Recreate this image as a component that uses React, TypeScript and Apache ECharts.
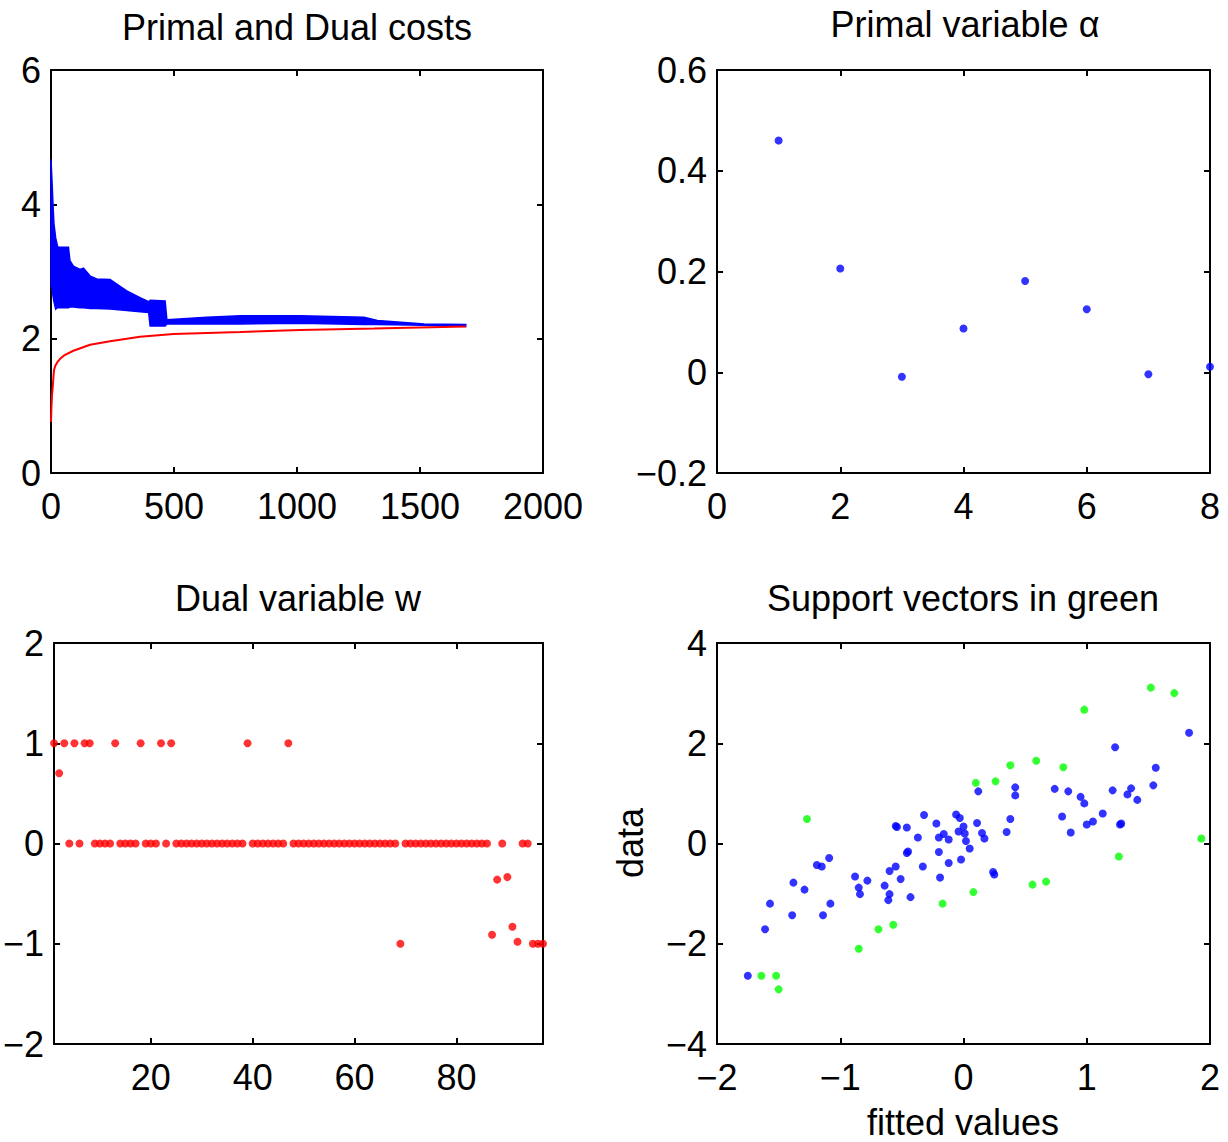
import React, { useEffect, useRef } from "react";
import * as echarts from "echarts";

// ---- Primal and Dual costs (envelope of the oscillating primal cost, and dual cost) ----
const bandX = [0, 4, 8, 12, 19, 26, 30, 71, 77, 91, 118, 132, 160, 186, 240, 308, 362, 397, 403, 464, 471, 634, 770, 1014, 1272, 1327, 1517, 1686];
const primalUpper = [4.67, 4.35, 4.0, 3.71, 3.5, 3.38, 3.36, 3.36, 3.16, 3.08, 3.03, 3.05, 2.93, 2.89, 2.88, 2.71, 2.61, 2.55, 2.57, 2.56, 2.28, 2.32, 2.34, 2.34, 2.32, 2.27, 2.22, 2.21];
const primalLower = [2.81, 2.74, 2.64, 2.55, 2.44, 2.46, 2.46, 2.46, 2.47, 2.47, 2.46, 2.46, 2.45, 2.45, 2.44, 2.42, 2.4, 2.39, 2.19, 2.19, 2.22, 2.22, 2.22, 2.23, 2.21, 2.21, 2.2, 2.18];
const dualX = [0, 2, 4, 7, 12, 18, 26, 37, 53, 91, 159, 240, 362, 498, 770, 1014, 1313, 1686];
const dualCost = [0.76, 1.0, 1.15, 1.28, 1.53, 1.6, 1.65, 1.7, 1.75, 1.82, 1.91, 1.96, 2.03, 2.07, 2.1, 2.13, 2.15, 2.18];

// ---- Primal variable alpha ----
const alphaIndex = [1, 2, 3, 4, 5, 6, 7, 8];
const alphaValues = [0.46, 0.206, -0.009, 0.087, 0.181, 0.125, -0.004, 0.011];

// ---- Dual variable w (index 1..97) ----
const wValues = [
  1, 0.7, 1, 0, 1, 0, 1, 1, 0, 0,
  0, 0, 1, 0, 0, 0, 0, 1, 0, 0,
  0, 1, 0, 1, 0, 0, 0, 0, 0, 0,
  0, 0, 0, 0, 0, 0, 0, 0, 1, 0,
  0, 0, 0, 0, 0, 0, 1, 0, 0, 0,
  0, 0, 0, 0, 0, 0, 0, 0, 0, 0,
  0, 0, 0, 0, 0, 0, 0, 0, -1, 0,
  0, 0, 0, 0, 0, 0, 0, 0, 0, 0,
  0, 0, 0, 0, 0, 0, -0.91, -0.36, 0, -0.335,
  -0.83, -0.98, 0, 0, -1, -1, -1,
];
const wTicks = [20, 40, 60, 80];

// ---- Support vectors ----
const blueFitted = [-1.75, -1.61, -1.57, -1.39, -1.38, -1.29, -1.19, -1.15, -1.09, -1.14, -1.08, -0.88, -0.85, -0.84, -0.78, -0.64, -0.6, -0.61, -0.6, -0.55, -0.51, -0.43, -0.55, -0.54, -0.46, -0.46, -0.45, -0.37, -0.32, -0.33, -0.22, -0.2, -0.16, -0.12, -0.2, -0.19, -0.12, -0.06, -0.03, -0.04, -0.02, 0.0, 0.01, 0.02, 0.05, 0.11, 0.15, 0.17, 0.38, 0.35, 0.24, 0.25, 0.12, 0.42, 0.42, 0.74, 0.85, 0.95, 0.98, 1.23, 1.21, 1.36, 1.33, 1.41, 1.54, 1.56, 1.83, 0.8, 0.87, 1.0, 1.05, 1.13, 1.27, 1.28];
const blueData = [-2.64, -1.71, -1.2, -1.43, -0.78, -0.92, -0.43, -0.46, -0.29, -1.43, -1.2, -0.66, -0.88, -1.01, -0.74, -0.84, -1.01, -1.13, -0.55, -0.46, -0.71, -1.07, 0.35, 0.33, 0.32, -0.19, -0.16, 0.12, 0.57, -0.46, 0.4, 0.12, 0.19, 0.08, -0.17, -0.68, -0.39, 0.58, 0.51, 0.24, -0.32, 0.34, 0.2, 0.05, -0.1, 0.41, 0.21, 0.1, 0.49, 0.23, -0.57, -0.62, 1.04, 1.12, 0.96, 1.09, 1.04, 0.93, 0.8, 1.92, 1.06, 1.1, 0.98, 0.87, 1.16, 1.51, 2.21, 0.54, 0.22, 0.38, 0.44, 0.6, 0.38, 0.4];
const greenFitted = [-1.64, -1.52, -1.5, -1.27, -0.85, -0.69, -0.57, -0.17, 0.08, 0.56, 0.67, 0.1, 0.26, 0.38, 0.59, 0.81, 0.98, 1.52, 1.71, 1.93, 1.26];
const greenData = [-2.64, -2.64, -2.91, 0.49, -2.1, -1.71, -1.62, -1.2, -0.97, -0.82, -0.76, 1.21, 1.24, 1.56, 1.65, 1.52, 2.67, 3.11, 3.0, 0.1, -0.26];

const FONT = "'Liberation Sans', Arial, Helvetica, sans-serif";
const FS = 36;

const fmt = (v: number) => {
  let s = String(Math.round(v * 1000) / 1000);
  if (s === "-0") s = "0";
  return s.replace("-", "\u2212");
};

type AxisSpec = { min: number; max: number; interval?: number; custom?: number[] };

const grids = [
  { left: 51, top: 70, width: 492, height: 403 },
  { left: 717, top: 70, width: 493, height: 403 },
  { left: 51, top: 643, width: 492, height: 401 },
  { left: 717, top: 643, width: 493, height: 401 },
];

function makeAxis(gridIndex: number, spec: AxisSpec, position: string, labels: boolean) {
  const isX = position === "bottom" || position === "top";
  return {
    type: "value",
    gridIndex,
    position,
    min: spec.min,
    max: spec.max,
    interval: spec.interval,
    axisLine: { show: true, onZero: false, lineStyle: { color: "#000", width: 2 } },
    axisTick: {
      show: true,
      inside: true,
      length: 6,
      lineStyle: { color: "#000", width: 2 },
      customValues: spec.custom,
    },
    axisLabel: {
      show: labels,
      margin: isX ? 15 : 10,
      color: "#000",
      fontSize: FS,
      fontFamily: FONT,
      formatter: fmt,
      customValues: spec.custom,
    },
    splitLine: { show: false },
  };
}

const axisSpecs: { x: AxisSpec; y: AxisSpec }[] = [
  { x: { min: 0, max: 2000, interval: 500 }, y: { min: 0, max: 6, interval: 2 } },
  { x: { min: 0, max: 8, interval: 2 }, y: { min: -0.2, max: 0.6, interval: 0.2 } },
  { x: { min: 1, max: 97, custom: wTicks }, y: { min: -2, max: 2, interval: 1 } },
  { x: { min: -2, max: 2, interval: 1 }, y: { min: -4, max: 4, interval: 2 } },
];

export default function App() {
  const ref = useRef<HTMLDivElement>(null);
  useEffect(() => {
    if (!ref.current) return;
    const chart = echarts.init(ref.current, undefined, { renderer: "svg" });

    const xAxes: any[] = [];
    const yAxes: any[] = [];
    axisSpecs.forEach((s, g) => {
      xAxes.push(makeAxis(g, s.x, "bottom", true));
      xAxes.push(makeAxis(g, s.x, "top", false));
      yAxes.push(makeAxis(g, s.y, "left", true));
      yAxes.push(makeAxis(g, s.y, "right", false));
    });

    const titles = [
      { text: "Primal and Dual costs", x: 297, y: 27 },
      { text: "Primal variable \u03b1", x: 965, y: 24 },
      { text: "Dual variable w", x: 298, y: 598 },
      { text: "Support vectors in green", x: 963, y: 598 },
    ];

    const graphic: any[] = titles.map((t) => ({
      type: "text",
      x: t.x,
      y: t.y,
      style: { text: t.text, fill: "#000", font: `${FS}px ${FONT}`, textAlign: "center", textVerticalAlign: "middle" },
    }));
    graphic.push({
      type: "text",
      x: 630,
      y: 843,
      rotation: Math.PI / 2,
      style: { text: "data", fill: "#000", font: `${FS}px ${FONT}`, textAlign: "center", textVerticalAlign: "middle" },
    });
    graphic.push({
      type: "text",
      x: 963,
      y: 1122,
      style: { text: "fitted values", fill: "#000", font: `${FS}px ${FONT}`, textAlign: "center", textVerticalAlign: "middle" },
    });

    const blue = "#0000ff";
    const red = "#ff0000";
    const green = "#00ff00";

    const option: any = {
      animation: false,
      backgroundColor: "#fff",
      grid: grids.map((g) => ({ ...g, containLabel: false })),
      xAxis: xAxes,
      yAxis: yAxes,
      graphic,
      series: [
        {
          name: "primal",
          type: "custom",
          xAxisIndex: 0,
          yAxisIndex: 0,
          data: [[bandX[0], primalUpper[0]]],
          renderItem: (params: any, api: any) => {
            if (params.dataIndex !== 0) return null;
            const pts: number[][] = [];
            for (let i = 0; i < bandX.length; i++) pts.push(api.coord([bandX[i], primalUpper[i]]));
            for (let i = bandX.length - 1; i >= 0; i--) pts.push(api.coord([bandX[i], primalLower[i]]));
            return {
              type: "polygon",
              shape: { points: pts },
              style: { fill: blue, stroke: blue, lineWidth: 1.5 },
            };
          },
        },
        {
          name: "dual",
          type: "line",
          xAxisIndex: 0,
          yAxisIndex: 0,
          showSymbol: false,
          symbol: "none",
          lineStyle: { color: red, width: 2 },
          data: dualX.map((x, i) => [x, dualCost[i]]),
        },
        {
          name: "alpha",
          type: "scatter",
          xAxisIndex: 2,
          yAxisIndex: 2,
          symbolSize: 8,
          clip: false,
          itemStyle: { color: blue },
          data: alphaIndex.map((x, i) => [x, alphaValues[i]]),
        },
        {
          name: "w",
          type: "scatter",
          xAxisIndex: 4,
          yAxisIndex: 4,
          symbolSize: 8,
          clip: false,
          itemStyle: { color: red },
          data: wValues.map((v, i) => [i + 1, v]),
        },
        {
          name: "nonSupport",
          type: "scatter",
          xAxisIndex: 6,
          yAxisIndex: 6,
          symbolSize: 8,
          clip: false,
          itemStyle: { color: blue },
          data: blueFitted.map((x, i) => [x, blueData[i]]),
        },
        {
          name: "support",
          type: "scatter",
          xAxisIndex: 6,
          yAxisIndex: 6,
          symbolSize: 8,
          clip: false,
          itemStyle: { color: green },
          data: greenFitted.map((x, i) => [x, greenData[i]]),
        },
      ],
    };
    chart.setOption(option);
    return () => chart.dispose();
  }, []);

  return (
    <div
      ref={ref}
      style={{ position: "absolute", left: 0, top: 0, width: 1228, height: 1142, background: "#fff" }}
    />
  );
}
